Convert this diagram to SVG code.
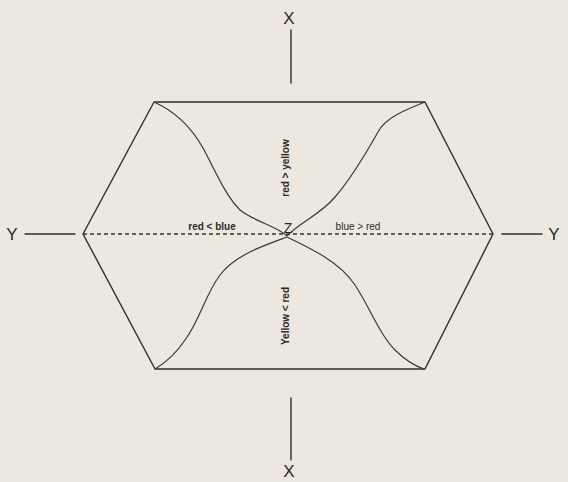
<svg xmlns="http://www.w3.org/2000/svg" width="568" height="482" viewBox="0 0 568 482">
<style>
.ln{stroke:#2e2e2e;stroke-width:1.4;fill:none;stroke-linecap:round;stroke-linejoin:round}
.cv{stroke:#3a3a3a;stroke-width:1.2;fill:none}
.ds{stroke:#333;stroke-width:1.3;stroke-dasharray:4 3;fill:none}
.big{font-family:"Liberation Sans",Arial,sans-serif;font-size:17px;fill:#2a2a2a;text-anchor:middle}
.sm{font-family:"Liberation Sans",Arial,sans-serif;font-size:10px;fill:#2a2a2a;text-anchor:middle;font-weight:bold}
</style>
<rect width="568" height="482" fill="#ece8df"/>
<g id="connectors">
<line class="ln" x1="291" y1="30" x2="291" y2="83"/>
<line class="ln" x1="291" y1="398" x2="291" y2="460"/>
<line class="ln" x1="25" y1="234" x2="75" y2="234"/>
<line class="ln" x1="502" y1="234" x2="542" y2="234"/>
<line class="ds" x1="83" y1="234" x2="493" y2="234"/>
</g>
<g id="hexagon">
<polygon class="ln" points="154,102 425,102 493,234 425,369 155,369 83,234"/>
</g>
<g id="curves">
<path class="cv" d="M154,102 C172,110 190,125 203,148 C215,170 225,195 240,210 C255,222 275,225 287,236"/>
<path class="cv" d="M425,102 C405,110 385,118 378,132 C365,155 350,180 335,197 C320,215 300,222 287,236"/>
<path class="cv" d="M287,237 C265,245 235,255 220,275 C205,295 200,320 185,340 C175,355 165,363 155,369"/>
<path class="cv" d="M287,237 C310,248 340,262 355,285 C370,308 380,335 395,350 C405,360 415,366 424,369"/>
</g>
<g id="labels">
<text class="big" x="289" y="24">X</text>
<text class="big" x="289" y="477">X</text>
<text class="big" x="12" y="240">Y</text>
<text class="big" x="554" y="240">Y</text>
<text class="big" x="288" y="233" style="font-size:14px">Z</text>
<text class="sm" x="212" y="230">red &lt; blue</text>
<text class="sm" x="358" y="230" style="font-weight:normal">blue &gt; red</text>
<text class="sm" transform="translate(289,168) rotate(-90)">red &gt; yellow</text>
<text class="sm" transform="translate(289,316) rotate(-90)">Yellow &lt; red</text>
</g>
</svg>
